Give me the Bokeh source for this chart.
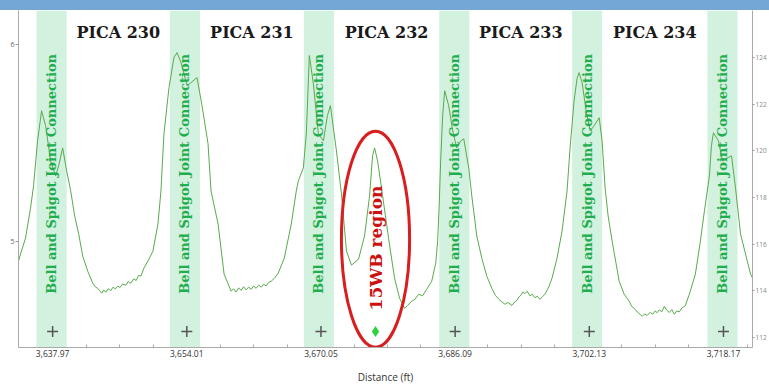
import math
from bokeh.plotting import figure
from bokeh.layouts import column
from bokeh.models import (Range1d, LinearAxis, FixedTicker, NumeralTickFormatter,
                          BoxAnnotation, ColumnDataSource, Div)
from bokeh.core.properties import value
from bokeh.embed import file_html
from bokeh.resources import INLINE

# ---------------- data ----------------
distance_ft = [
    3633.89, 3634.13, 3634.73, 3635.33, 3635.69, 3636.17, 3636.65, 3637.13, 3637.73, 3638.33, 3638.69, 3639.17, 3639.65, 3640.13, 3640.61, 3641.09, 3641.57, 3642.17, 3642.77,
    3643.06, 3643.36, 3643.60, 3643.84, 3644.08, 3644.32, 3644.62, 3644.92, 3645.20, 3645.46, 3645.76, 3646.02, 3646.32, 3646.72, 3647.00, 3647.30, 3647.68, 3647.96, 3648.24, 3648.52,
    3648.88, 3649.48, 3649.96, 3650.56, 3650.92, 3651.28, 3651.88, 3652.48, 3652.84, 3653.32, 3654.04, 3654.51, 3655.23, 3655.83, 3656.55, 3656.91, 3657.75, 3658.47,
    3659.31, 3659.60, 3659.90, 3660.20, 3660.51, 3660.80, 3661.10, 3661.40, 3661.71, 3662.00, 3662.30, 3662.60, 3662.91, 3663.20, 3663.50, 3663.80, 3664.10, 3664.50, 3664.94,
    3665.66, 3666.50, 3667.10, 3667.34, 3667.94, 3668.30, 3668.66, 3669.14, 3669.74, 3670.34, 3670.82, 3671.18, 3671.90, 3672.50, 3673.10, 3673.70, 3674.54, 3675.26, 3675.86, 3676.22, 3676.46, 3676.82, 3677.29, 3678.13, 3678.85, 3679.45, 3680.05,
    3680.40, 3680.89, 3681.30, 3681.73, 3682.20, 3682.69, 3683.29,
    3683.77, 3684.00, 3684.18, 3684.36, 3684.60, 3684.84, 3685.32, 3685.80, 3686.28, 3686.76, 3687.12, 3687.72, 3688.08, 3688.68, 3689.28, 3689.88, 3690.48,
    3690.90, 3691.32, 3691.70, 3692.04, 3692.40, 3692.88, 3693.20, 3693.50, 3693.72, 3694.00, 3694.20, 3694.44, 3694.70, 3695.04, 3695.30, 3695.63, 3695.90, 3696.23, 3696.50, 3696.83, 3697.31,
    3697.67, 3698.27, 3698.87, 3699.47, 3699.83, 3700.31, 3700.67, 3700.91, 3701.27, 3701.75, 3702.23, 3702.71, 3703.31, 3703.66, 3704.02, 3704.38, 3704.86, 3705.70, 3706.30,
    3706.90, 3707.20, 3707.62, 3707.90, 3708.20, 3708.46, 3708.75, 3709.05, 3709.42, 3709.70, 3710.00, 3710.25, 3710.50, 3710.80, 3711.10, 3711.40, 3711.70, 3712.00, 3712.30, 3712.60, 3712.89, 3713.20, 3713.61, 3714.09,
    3714.81, 3715.41, 3715.89, 3716.49, 3716.73, 3716.97, 3717.57, 3718.05, 3718.65, 3719.13, 3719.61, 3720.21, 3720.81, 3721.41, 3722.01, 3722.49,
]
signal = [
    4.898, 4.934, 5.015, 5.168, 5.281, 5.510, 5.663, 5.587, 5.408, 5.332, 5.383, 5.474, 5.357, 5.255, 5.128, 5.036, 4.923, 4.847, 4.786,
    4.768, 4.760, 4.748, 4.735, 4.752, 4.740, 4.758, 4.748, 4.766, 4.757, 4.772, 4.764, 4.781, 4.776, 4.795, 4.786, 4.808, 4.800, 4.826, 4.822,
    4.862, 4.908, 4.949, 5.087, 5.255, 5.546, 5.781, 5.934, 5.959, 5.908, 5.791, 5.806, 5.832, 5.689, 5.495, 5.255, 5.087, 4.832,
    4.745, 4.758, 4.741, 4.762, 4.750, 4.768, 4.752, 4.766, 4.755, 4.772, 4.760, 4.776, 4.766, 4.781, 4.772, 4.790, 4.796, 4.812, 4.837,
    4.913, 5.087, 5.255, 5.306, 5.372, 5.546, 5.944, 5.801, 5.546, 5.510, 5.638, 5.689, 5.459, 5.240, 4.949, 4.878, 4.908, 5.026, 5.230, 5.434, 5.474, 5.408, 5.270, 5.015, 4.811, 4.709, 4.658,
    4.672, 4.694, 4.705, 4.730, 4.722, 4.755, 4.796,
    4.888, 5.000, 5.179, 5.408, 5.638, 5.765, 5.689, 5.561, 5.474, 5.510, 5.520, 5.372, 5.230, 5.026, 4.913, 4.821, 4.760,
    4.724, 4.704, 4.690, 4.679, 4.688, 4.673, 4.690, 4.700, 4.716, 4.728, 4.742, 4.733, 4.745, 4.722, 4.730, 4.712, 4.720, 4.704, 4.716, 4.730, 4.770,
    4.811, 4.913, 5.051, 5.255, 5.474, 5.714, 5.827, 5.857, 5.806, 5.663, 5.561, 5.587, 5.628, 5.510, 5.270, 5.128, 5.000, 4.796, 4.730,
    4.694, 4.668, 4.653, 4.638, 4.628, 4.617, 4.630, 4.622, 4.638, 4.628, 4.645, 4.636, 4.650, 4.641, 4.668, 4.648, 4.637, 4.652, 4.628, 4.645, 4.640, 4.660, 4.672, 4.730,
    4.832, 5.000, 5.153, 5.332, 5.485, 5.551, 5.510, 5.408, 5.423, 5.434, 5.270, 5.036, 4.934, 4.832, 4.781, 4.760,
]
tick_distances = [3637.97, 3654.01, 3670.05, 3686.09, 3702.13, 3718.17]
joint_centers = [3637.85, 3653.79, 3669.80, 3685.99, 3701.87, 3718.05]
joint_width_ft = 3.6
joint_label = "Bell and Spigot Joint Connection"
pica_names = ["PICA 230", "PICA 231", "PICA 232", "PICA 233", "PICA 234"]
left_ticks = [5, 6]
right_ticks = [112, 114, 116, 118, 120, 122, 124]
minor_x_ticks = [3642.0, 3646.0, 3650.0, 3658.0, 3662.0, 3666.0, 3674.0, 3678.0,
                 3682.0, 3690.0, 3694.0, 3698.0, 3706.0, 3710.0, 3714.0, 3721.0]
region_label = "15WB region"
region_center = (3676.57, 5.01)
region_size = (8.15, 1.10)
marker_level = 4.541
joint_text_level = 5.342
pica_level = 6.061

# ---------------- figure ----------------
X0, X1 = 3633.89, 3721.64
Y0, Y1 = 4.459, 6.173

p = figure(width=769, height=376, output_backend="svg", toolbar_location=None,
           x_range=Range1d(X0, X1), y_range=Range1d(Y0, Y1),
           min_border_left=18, min_border_right=0, min_border_top=0, min_border_bottom=0)
p.outline_line_color = None
p.background_fill_color = "white"
p.border_fill_color = "white"
p.xgrid.visible = False
p.ygrid.visible = False

# joint bands
for c in joint_centers:
    p.add_layout(BoxAnnotation(left=c - joint_width_ft / 2, right=c + joint_width_ft / 2,
                               fill_color="#d3f1df", fill_alpha=1.0, line_color=None,
                               level="underlay"))

# signal line
p.line(distance_ft, signal, line_color="#5aa94e", line_width=1)

# joint labels
jsrc = ColumnDataSource(dict(x=joint_centers, y=[joint_text_level] * len(joint_centers),
                             t=[joint_label] * len(joint_centers)))
p.text(x="x", y="y", text="t", source=jsrc, angle=math.pi / 2,
       text_align="center", text_baseline="middle",
       text_font=value("DejaVu Serif"), text_font_style="bold",
       text_font_size="13px", text_color="#1fae4e")

# plus markers
p.scatter(tick_distances, [marker_level] * len(tick_distances), marker="cross",
          size=11, line_color="#555555", line_width=1.5)

# PICA labels centered between joints
pica_x = [(joint_centers[i] + joint_centers[i + 1]) / 2 for i in range(len(pica_names))]
psrc = ColumnDataSource(dict(x=pica_x, y=[pica_level] * len(pica_x), t=pica_names))
p.text(x="x", y="y", text="t", source=psrc, text_align="center", text_baseline="middle",
       text_font=value("DejaVu Serif"), text_font_style="bold",
       text_font_size="16px", text_color="#1a1a1a")

# 15WB region
p.ellipse(x=[region_center[0]], y=[region_center[1]], width=[region_size[0]],
          height=[region_size[1]], fill_color=None, line_color="#d81e1e", line_width=3)
p.text(x=[region_center[0]], y=[region_center[1] - 0.045], text=[region_label],
       angle=math.pi / 2, text_align="center", text_baseline="middle",
       text_font=value("DejaVu Serif"), text_font_style="bold",
       text_font_size="17px", text_color="#cc1111")
p.scatter([region_center[0]], [marker_level], marker="diamond", size=11,
          fill_color="#2fd13a", line_color=None)

# axes
xa = p.xaxis[0]
xa.ticker = FixedTicker(ticks=tick_distances, minor_ticks=minor_x_ticks)
xa.formatter = NumeralTickFormatter(format="0,0.00")
xa.axis_label = "Distance (ft)"
xa.axis_label_text_font = "Open Sans"
xa.axis_label_text_font_style = "normal"
xa.axis_label_text_font_size = "10px"
xa.axis_label_text_color = "#333333"
xa.axis_label_standoff = 10
xa.major_label_text_font = "Open Sans"
xa.major_label_text_font_size = "8.5px"
xa.major_label_text_color = "#333333"
xa.major_label_standoff = 2
xa.major_tick_in = 0
xa.major_tick_out = 0
xa.minor_tick_in = 3
xa.minor_tick_out = 0
xa.minor_tick_line_color = "#aaaaaa"
xa.axis_line_color = "#aaaaaa"

ya = p.yaxis[0]
ya.ticker = FixedTicker(ticks=left_ticks, minor_ticks=[])
ya.major_label_text_font = "Open Sans"
ya.major_label_text_font_size = "7px"
ya.major_label_text_color = "#666666"
ya.major_label_standoff = 1
ya.major_tick_in = 0
ya.major_tick_out = 3
ya.major_tick_line_color = "#999999"
ya.axis_line_color = "#aaaaaa"

p.extra_y_ranges = {"right": Range1d(111.57, 126.02)}
ra = LinearAxis(y_range_name="right", ticker=FixedTicker(ticks=right_ticks, minor_ticks=[]))
ra.major_label_text_font = "Open Sans"
ra.major_label_text_font_size = "6.5px"
ra.major_label_text_color = "#888888"
ra.major_label_standoff = 1
ra.major_tick_in = 0
ra.major_tick_out = 2
ra.major_tick_line_color = "#999999"
ra.axis_line_color = "#aaaaaa"
p.add_layout(ra, "right")

top_strip = Div(text="", width=769, height=10, margin=(0, 0, 0, 0),
                styles={"background-color": "#74a6d6"})
layout = column(top_strip, p, spacing=0)

open("out.html", "w").write(file_html(layout, INLINE))
